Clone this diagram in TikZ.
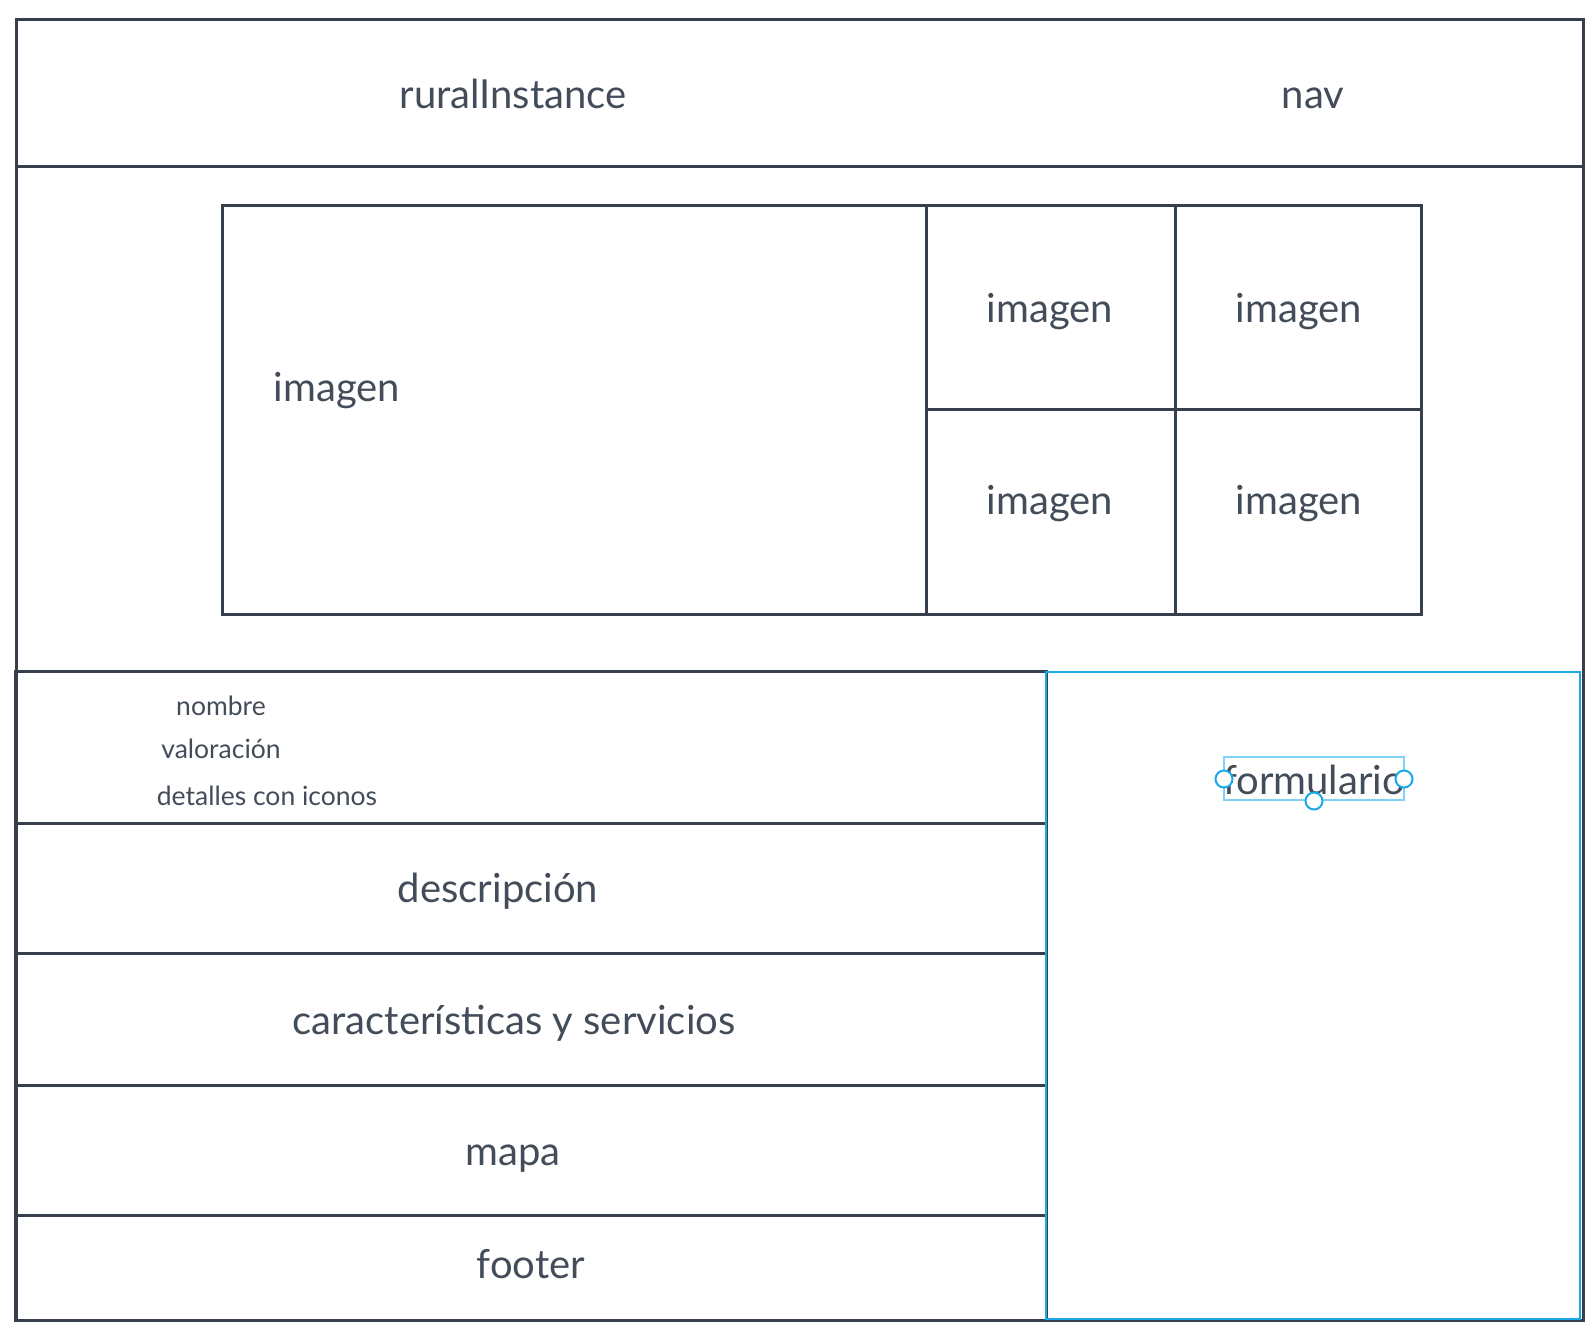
\documentclass[tikz,border=0pt]{standalone}
\usepackage{fontspec}
\setmainfont{Lato}
\definecolor{ln}{HTML}{36404C}
\definecolor{tx}{HTML}{434C59}
\definecolor{sel}{HTML}{1BA9E6}
\definecolor{selbox}{HTML}{7FD1F6}
\begin{document}
\begin{tikzpicture}[x=1pt,y=-1pt,
  frame/.style={draw=ln,line width=3pt},
  big/.style={text=tx,font=\fontsize{40}{48}\selectfont,inner sep=0pt},
  small/.style={text=tx,font=\fontsize{26.5}{32}\selectfont,inner sep=0pt},
  handle/.style={circle,draw=sel,fill=white,line width=2pt,minimum size=17pt,inner sep=0pt}]
\useasboundingbox (0,0) rectangle (1596,1332);
% outer frame and header
\draw[frame] (16,20) rectangle (1583,1320);
\draw[frame] (16,167) -- (1583,167);
\node[big] (rural) at (513,94) {ruralInstance};
\node[big] (nav) at (1313,98) {nav};
% gallery
\draw[frame] (222,206) rectangle (1421,614);
\draw[frame] (926,206) -- (926,614);
\draw[frame] (1175,206) -- (1175,614);
\draw[frame] (926,409) -- (1421,409);
\node[big] (img0) at (337,391) {imagen};
\node[big] (img1) at (1050,312) {imagen};
\node[big] (img2) at (1299,312) {imagen};
\node[big] (img3) at (1050,504) {imagen};
\node[big] (img4) at (1299,504) {imagen};
% lower left column
\draw[frame] (15,671) rectangle (1046,1320);
\draw[frame] (16,823) -- (1046,823);
\draw[frame] (16,953) -- (1046,953);
\draw[frame] (16,1085) -- (1046,1085);
\draw[frame] (16,1215) -- (1046,1215);
\node[small] (nombre) at (221,706) {nombre};
\node[small] (valor) at (221,749) {valoración};
\node[small] (detalles) at (267,796) {detalles con iconos};
\node[big] (desc) at (498,891) {descripción};
\node[big] (carac) at (514,1023) {características y servicios};
\node[big] (mapa) at (513,1159) {mapa};
\node[big] (footer) at (531,1264) {footer};
% form (selected)
\draw[sel,line width=2.5pt] (1046,672) rectangle (1580,1319);
\node[big] (form) at (1314,780) {formulario};
\draw[selbox,line width=2pt] (1224,757) rectangle (1404,800);
\node[handle] (h1) at (1224,779) {};
\node[handle] (h2) at (1404,779) {};
\node[handle] (h3) at (1314,801) {};
\end{tikzpicture}
\end{document}
